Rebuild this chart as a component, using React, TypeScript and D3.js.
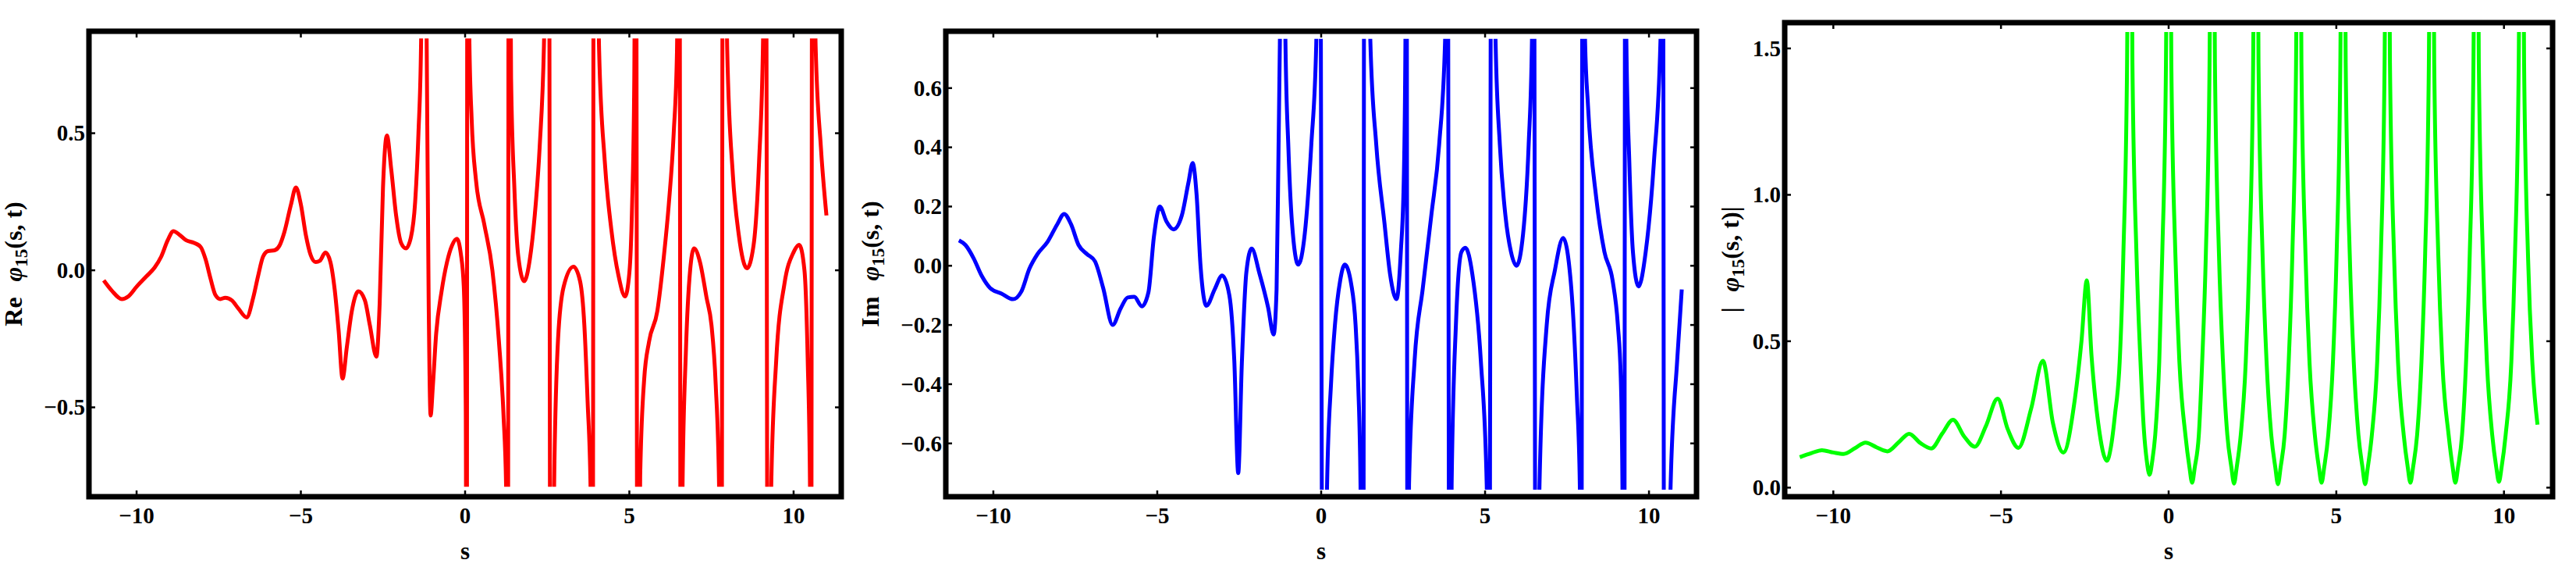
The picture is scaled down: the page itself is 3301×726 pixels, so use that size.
import React from 'react';
import * as d3 from 'd3';

// tick values
const sTicks = [-10, -5, 0, 5, 10];
const reTicks = [-0.5, 0, 0.5];
const imTicks = [-0.6, -0.4, -0.2, 0, 0.2, 0.4, 0.6];
const absTicks = [0, 0.5, 1.0, 1.5];

// Re φ15(s,t); ±2 stands for "off the plot range" near poles
const rePoints: [number, number][] = [
  [-11.0, -0.037], [-10.75, -0.075], [-10.45, -0.105], [-10.25, -0.095], [-10.0, -0.06],
  [-9.7, -0.022], [-9.45, 0.01], [-9.25, 0.05], [-9.05, 0.11], [-8.88, 0.143], [-8.7, 0.13],
  [-8.5, 0.11], [-8.25, 0.1], [-8.05, 0.085], [-7.9, 0.04], [-7.75, -0.03], [-7.6, -0.09],
  [-7.45, -0.105], [-7.3, -0.1], [-7.1, -0.11], [-6.9, -0.14], [-6.65, -0.172], [-6.45, -0.1],
  [-6.3, -0.02], [-6.15, 0.05], [-6.0, 0.07], [-5.8, 0.073], [-5.65, 0.09], [-5.5, 0.14],
  [-5.3, 0.24], [-5.15, 0.302], [-5.0, 0.24], [-4.85, 0.13], [-4.7, 0.055], [-4.55, 0.03],
  [-4.42, 0.035], [-4.25, 0.065], [-4.1, 0.03], [-3.97, -0.07], [-3.85, -0.22], [-3.73, -0.395],
  [-3.6, -0.28], [-3.45, -0.15], [-3.25, -0.077], [-3.05, -0.11], [-2.9, -0.2], [-2.7, -0.315],
  [-2.6, -0.12], [-2.5, 0.3], [-2.38, 0.492], [-2.25, 0.37], [-2.1, 0.2], [-1.95, 0.1],
  [-1.8, 0.08], [-1.65, 0.12], [-1.52, 0.25], [-1.42, 0.5], [-1.34, 0.83], [-1.25, 2.0],
  [-1.17, 0.84], [-1.11, -0.1], [-1.05, -0.53], [-0.98, -0.42], [-0.88, -0.23], [-0.72, -0.08],
  [-0.55, 0.03], [-0.4, 0.09], [-0.25, 0.115], [-0.13, 0.06], [-0.04, -0.06], [0.02, -0.5],
  [0.05, -2.0], [0.07, 2.0], [0.13, 0.84], [0.2, 0.55], [0.33, 0.33], [0.58, 0.17], [0.83, 0.0],
  [1.03, -0.26], [1.17, -0.53], [1.25, -0.8], [1.3, -2.0], [1.33, 2.0], [1.4, 0.7], [1.5, 0.3],
  [1.62, 0.05], [1.8, -0.04], [1.97, 0.04], [2.12, 0.2], [2.27, 0.45], [2.4, 0.82], [2.55, 2.0],
  [2.6, -2.0], [2.72, -0.7], [2.83, -0.25], [3.0, -0.06], [3.3, 0.013], [3.5, -0.04],
  [3.63, -0.2], [3.73, -0.48], [3.82, -0.8], [3.88, -2.0], [3.92, 2.0], [4.08, 0.8], [4.25, 0.4],
  [4.45, 0.15], [4.67, -0.02], [4.87, -0.095], [5.0, -0.01], [5.08, 0.22], [5.15, 0.7],
  [5.2, 2.0], [5.25, -2.0], [5.33, -0.75], [5.45, -0.4], [5.6, -0.26], [5.85, -0.15],
  [6.05, 0.05], [6.2, 0.24], [6.35, 0.5], [6.45, 0.8], [6.52, 2.0], [6.57, -2.0], [6.62, -0.78],
  [6.72, -0.3], [6.85, 0.0], [6.97, 0.08], [7.15, 0.03], [7.35, -0.1], [7.5, -0.2],
  [7.63, -0.42], [7.73, -0.78], [7.8, -2.0], [7.85, 2.0], [7.98, 0.8], [8.15, 0.35],
  [8.33, 0.13], [8.58, 0.007], [8.78, 0.09], [8.95, 0.4], [9.07, 0.84], [9.15, 2.0],
  [9.22, -2.0], [9.32, -0.78], [9.47, -0.33], [9.72, -0.05], [10.0, 0.066], [10.17, 0.093],
  [10.33, 0.0], [10.43, -0.33], [10.5, -0.8], [10.53, -2.0], [10.57, 2.0], [10.67, 0.82],
  [10.83, 0.45], [11.0, 0.2],
];

// Im φ15(s,t)
const imPoints: [number, number][] = [
  [-11.05, 0.086], [-10.85, 0.07], [-10.6, 0.025], [-10.35, -0.035], [-10.1, -0.075],
  [-9.75, -0.094], [-9.4, -0.113], [-9.15, -0.088], [-8.9, -0.01], [-8.65, 0.04], [-8.35, 0.08],
  [-8.05, 0.14], [-7.84, 0.175], [-7.63, 0.14], [-7.4, 0.07], [-7.15, 0.04], [-6.9, 0.015],
  [-6.65, -0.075], [-6.36, -0.2], [-6.12, -0.145], [-5.9, -0.107], [-5.7, -0.105],
  [-5.47, -0.137], [-5.27, -0.09], [-5.1, 0.1], [-4.92, 0.2], [-4.72, 0.15], [-4.5, 0.123],
  [-4.25, 0.17], [-4.05, 0.28], [-3.92, 0.347], [-3.8, 0.24], [-3.68, 0.0], [-3.5, -0.135],
  [-3.25, -0.08], [-3.02, -0.033], [-2.8, -0.1], [-2.65, -0.32], [-2.53, -0.7], [-2.42, -0.33],
  [-2.28, -0.02], [-2.12, 0.058], [-1.88, -0.027], [-1.62, -0.14], [-1.45, -0.232],
  [-1.36, -0.08], [-1.3, 0.4], [-1.26, 0.75], [-1.17, 2.0], [-1.09, 0.76], [-1.0, 0.4],
  [-0.89, 0.145], [-0.7, 0.004], [-0.5, 0.108], [-0.3, 0.41], [-0.15, 0.75], [-0.05, 2.0],
  [0.06, -2.0], [0.18, -0.74], [0.3, -0.4], [0.42, -0.2], [0.58, -0.05], [0.72, 0.004],
  [0.92, -0.064], [1.05, -0.2], [1.13, -0.4], [1.2, -0.74], [1.28, -2.0], [1.32, 2.0],
  [1.5, 0.76], [1.68, 0.41], [1.93, 0.145], [2.1, -0.027], [2.3, -0.113], [2.43, 0.047],
  [2.52, 0.29], [2.57, 0.76], [2.6, 2.0], [2.64, -2.0], [2.68, -0.74], [2.85, -0.32],
  [3.1, -0.076], [3.36, 0.17], [3.6, 0.41], [3.78, 0.76], [3.85, 2.0], [3.92, -2.0],
  [3.98, -0.74], [4.11, -0.2], [4.28, 0.047], [4.4, 0.061], [4.61, -0.027], [4.87, -0.32],
  [5.05, -0.74], [5.12, -2.0], [5.2, 2.0], [5.32, 0.76], [5.45, 0.41], [5.62, 0.17],
  [5.79, 0.047], [5.96, 0.0], [6.16, 0.108], [6.33, 0.41], [6.43, 0.76], [6.48, 2.0],
  [6.55, -2.0], [6.66, -0.74], [6.88, -0.2], [7.13, -0.015], [7.38, 0.094], [7.63, -0.076],
  [7.8, -0.44], [7.89, -0.74], [7.93, -2.0], [7.98, 2.0], [8.05, 0.76], [8.14, 0.54],
  [8.39, 0.23], [8.64, 0.047], [8.89, -0.05], [9.05, -0.2], [9.14, -0.38], [9.19, -0.74],
  [9.24, -2.0], [9.28, 2.0], [9.31, 0.76], [9.4, 0.35], [9.51, 0.047], [9.68, -0.07],
  [9.9, 0.047], [10.15, 0.35], [10.35, 0.76], [10.42, 2.0], [10.47, -2.0], [10.66, -0.74],
  [10.86, -0.32], [11.0, -0.08],
];

// |φ15(s,t)|; 3 marks a peak above the plot range
const absPoints: [number, number][] = [
  [-11.0, 0.104], [-10.65, 0.118], [-10.34, 0.128], [-10.0, 0.12], [-9.69, 0.115],
  [-9.35, 0.135], [-9.04, 0.154], [-8.7, 0.137], [-8.39, 0.124], [-8.05, 0.155],
  [-7.74, 0.184], [-7.4, 0.152], [-7.08, 0.134], [-6.75, 0.185], [-6.43, 0.232],
  [-6.1, 0.175], [-5.78, 0.14], [-5.45, 0.21], [-5.1, 0.304], [-4.8, 0.2], [-4.48, 0.136],
  [-4.1, 0.27], [-3.75, 0.433], [-3.45, 0.22], [-3.14, 0.12], [-2.8, 0.3], [-2.6, 0.5],
  [-2.44, 0.708], [-2.3, 0.45], [-2.1, 0.22], [-1.84, 0.092], [-1.72, 0.14], [-1.6, 0.25],
  [-1.46, 0.43], [-1.35, 0.8], [-1.24, 1.45], [-1.16, 3.0], [-1.08, 1.45], [-0.96, 0.8],
  [-0.84, 0.43], [-0.74, 0.2], [-0.65, 0.09], [-0.57, 0.044], [-0.49, 0.09], [-0.4, 0.18],
  [-0.28, 0.43], [-0.19, 0.8], [-0.08, 1.45], [0.0, 3.0], [0.08, 1.45], [0.2, 0.8],
  [0.32, 0.43], [0.5, 0.18], [0.62, 0.07], [0.7, 0.017], [0.78, 0.07], [0.9, 0.18],
  [1.0, 0.43], [1.11, 0.8], [1.22, 1.45], [1.3, 3.0], [1.38, 1.45], [1.5, 0.8], [1.62, 0.43],
  [1.75, 0.18], [1.87, 0.07], [1.95, 0.014], [2.03, 0.07], [2.15, 0.18], [2.3, 0.43],
  [2.41, 0.8], [2.52, 1.45], [2.6, 3.0], [2.68, 1.45], [2.8, 0.8], [2.92, 0.43], [3.06, 0.18],
  [3.18, 0.07], [3.26, 0.012], [3.34, 0.07], [3.46, 0.18], [3.58, 0.43], [3.69, 0.8],
  [3.8, 1.45], [3.88, 3.0], [3.96, 1.45], [4.08, 0.8], [4.2, 0.43], [4.36, 0.18], [4.48, 0.07],
  [4.56, 0.017], [4.64, 0.07], [4.76, 0.18], [4.9, 0.43], [5.01, 0.8], [5.12, 1.45],
  [5.2, 3.0], [5.28, 1.45], [5.4, 0.8], [5.52, 0.43], [5.66, 0.18], [5.78, 0.07],
  [5.86, 0.012], [5.94, 0.07], [6.06, 0.18], [6.22, 0.43], [6.33, 0.8], [6.44, 1.45],
  [6.52, 3.0], [6.6, 1.45], [6.72, 0.8], [6.84, 0.43], [7.01, 0.18], [7.13, 0.07],
  [7.21, 0.017], [7.29, 0.07], [7.41, 0.18], [7.54, 0.43], [7.65, 0.8], [7.76, 1.45],
  [7.84, 3.0], [7.92, 1.45], [8.04, 0.8], [8.16, 0.43], [8.35, 0.18], [8.47, 0.07],
  [8.55, 0.017], [8.63, 0.07], [8.75, 0.18], [8.87, 0.43], [8.98, 0.8], [9.09, 1.45],
  [9.17, 3.0], [9.25, 1.45], [9.37, 0.8], [9.49, 0.43], [9.65, 0.18], [9.77, 0.07],
  [9.85, 0.02], [9.93, 0.07], [10.05, 0.18], [10.22, 0.43], [10.33, 0.8], [10.44, 1.45],
  [10.52, 3.0], [10.6, 1.45], [10.72, 0.78], [10.85, 0.42], [11.0, 0.215],
];

const FONT = '"Liberation Serif", "Times New Roman", serif';
const sDomain: [number, number] = [-11.45, 11.45];

type PanelProps = {
  id: string;
  left: number;
  right: number;
  top: number;
  bottom: number;
  yDomain: [number, number];
  clip: [number, number];
  yTicks: number[];
  points: [number, number][];
  color: string;
  labelX: number;
  prefix: string;
  suffix?: string;
};

const Panel = ({ id, left, right, top, bottom, yDomain, clip, yTicks, points, color, labelX, prefix, suffix }: PanelProps) => {
  const x = d3.scaleLinear().domain(sDomain).range([left, right]);
  const y = d3.scaleLinear().domain(yDomain).range([bottom, top]);
  const line = d3.line<[number, number]>()
    .x(d => x(d[0]))
    .y(d => y(d[1]))
    .curve(d3.curveMonotoneX);
  const fmtY = d3.format('.1f');
  const fmtX = d3.format('d');
  const tickLen = 8;

  return (
    <g>
      <defs>
        <clipPath id={`clip-${id}`}>
          <rect x={left} y={y(clip[1])} width={right - left} height={y(clip[0]) - y(clip[1])} />
        </clipPath>
      </defs>

      <path d={line(points) || ''} fill="none" stroke={color} strokeWidth={5}
        strokeLinejoin="round" clipPath={`url(#clip-${id})`} />

      {/* ticks on all four sides */}
      {sTicks.map(t => (
        <g key={`xt${t}`} stroke="#000" strokeWidth={2.5}>
          <line x1={x(t)} x2={x(t)} y1={bottom} y2={bottom - tickLen} />
          <line x1={x(t)} x2={x(t)} y1={top} y2={top + tickLen} />
        </g>
      ))}
      {yTicks.map(t => (
        <g key={`yt${t}`} stroke="#000" strokeWidth={2.5}>
          <line x1={left} x2={left + tickLen} y1={y(t)} y2={y(t)} />
          <line x1={right} x2={right - tickLen} y1={y(t)} y2={y(t)} />
        </g>
      ))}

      <rect x={left} y={top} width={right - left} height={bottom - top}
        fill="none" stroke="#000" strokeWidth={7} />

      <g fontFamily={FONT} fontWeight="bold" fontSize={29} fill="#000">
        {sTicks.map(t => (
          <text key={`xl${t}`} x={x(t)} y={670} textAnchor="middle">{fmtX(t)}</text>
        ))}
        {yTicks.map(t => (
          <text key={`yl${t}`} x={left - 5} y={y(t)} dy="0.34em" textAnchor="end">{fmtY(t)}</text>
        ))}
        <text x={x(0)} y={716} textAnchor="middle" fontSize={31}>s</text>
        <text transform={`translate(${labelX},${(top + bottom) / 2}) rotate(-90)`} textAnchor="middle" fontSize={32}>
          <tspan>{prefix}</tspan>
          <tspan dx={20} fontStyle="italic">φ</tspan>
          <tspan fontSize={23} dy={7}>15</tspan>
          <tspan dy={-7}>(s, t)</tspan>
          {suffix ? <tspan>{suffix}</tspan> : null}
        </text>
      </g>
    </g>
  );
};

const App = () => (
  <svg width={3301} height={726} style={{ position: 'absolute', left: 0, top: 0, background: '#fff' }}>
    <rect width={3301} height={726} fill="#fff" />
    <Panel id="re" left={114} right={1078} top={40} bottom={636}
      yDomain={[-0.826, 0.872]} clip={[-0.79, 0.846]} yTicks={reTicks}
      points={rePoints} color="#ff0000" labelX={28} prefix="Re" />
    <Panel id="im" left={1212} right={2174} top={40} bottom={636}
      yDomain={[-0.78, 0.792]} clip={[-0.756, 0.766]} yTicks={imTicks}
      points={imPoints} color="#0000ff" labelX={1126} prefix="Im" />
    <Panel id="abs" left={2287} right={3271} top={29} bottom={636}
      yDomain={[-0.031, 1.588]} clip={[-0.031, 1.556]} yTicks={absTicks}
      points={absPoints} color="#00ff00" labelX={2228} prefix="|" suffix="|" />
  </svg>
);

export default App;
